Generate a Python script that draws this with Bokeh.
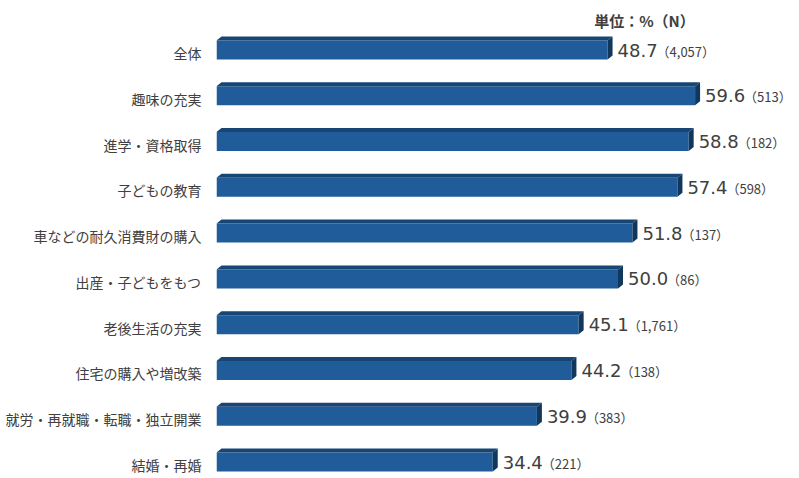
import numpy as np
from bokeh.plotting import figure
from bokeh.models import Range1d, FixedTicker, ColumnDataSource, Label
from bokeh.core.properties import value
from bokeh.embed import file_html
from bokeh.resources import INLINE

categories = ["全体", "趣味の充実", "進学・資格取得", "子どもの教育", "車などの耐久消費財の購入",
              "出産・子どもをもつ", "老後生活の充実", "住宅の購入や増改築",
              "就労・再就職・転職・独立開業", "結婚・再婚"]
values = [48.7, 59.6, 58.8, 57.4, 51.8, 50.0, 45.1, 44.2, 39.9, 34.4]
counts = ["4,057", "513", "182", "598", "137", "86", "1,761", "138", "383", "221"]
unit_label = "単位：%（N）"

# layout constants (pixels)
W, H = 799, 478
LEFT = 216
PX_X = 8.03          # pixels per percentage point
PX_Y = 45.78         # pixels per row
ROW0 = 52.5          # y (px from top) of first row tick
frame_w = W - LEFT
x_end = frame_w / PX_X
y_top = -ROW0 / PX_Y
y_bot = (H - ROW0) / PX_Y

p = figure(width=W, height=H, output_backend="svg", toolbar_location=None,
           x_range=Range1d(0, x_end), y_range=Range1d(y_bot, y_top),
           x_axis_location=None, min_border_left=LEFT, min_border_right=0,
           min_border_top=0, min_border_bottom=0)
p.outline_line_color = None
p.grid.visible = False
p.background_fill_color = "white"
p.border_fill_color = "white"

n = len(categories)
idx = np.arange(n, dtype=float)
vals = np.array(values)

off = -3.0 / PX_Y          # bar centre shift (up)
h = 19.0 / PX_Y            # front face height
dx = 5.0 / PX_X            # depth in x
dy = 4.0 / PX_Y            # depth in y

c = idx + off
top = c - h / 2
bot = c + h / 2

src = ColumnDataSource(dict(y=c, right=vals))
p.hbar(y="y", left=0, right="right", height=h, source=src,
       fill_color="#1F5C99", line_color=None)

top_xs = [[0, v, v + dx, dx] for v in vals]
top_ys = [[t, t, t - dy, t - dy] for t in top]
p.patches(top_xs, top_ys, fill_color="#184674", line_color=None)

side_xs = [[v, v + dx, v + dx, v] for v in vals]
side_ys = [[t, t - dy, b - dy, b] for t, b in zip(top, bot)]
p.patches(side_xs, side_ys, fill_color="#12375C", line_color=None)

num_src = ColumnDataSource(dict(x=vals + 10.0 / PX_X, y=c,
                                t=["{:.1f}".format(v) for v in vals]))
p.text(x="x", y="y", text="t", source=num_src, text_font=value("DejaVu Sans"),
       text_font_size="18px", text_color="#404040", text_baseline="middle",
       text_align="left")

n_src = ColumnDataSource(dict(x=vals + 49.0 / PX_X, y=c + 1.0 / PX_Y,
                              t=["（" + s + "）" for s in counts]))
p.text(x="x", y="y", text="t", source=n_src, text_font=value("Noto Sans CJK JP"),
       text_font_size="13px", text_color="#404040", text_baseline="middle",
       text_align="left")

p.add_layout(Label(x=(644 - LEFT) / PX_X, y=(20 - ROW0) / PX_Y, text=unit_label,
                   text_font="Noto Sans CJK JP", text_font_size="15px",
                   text_font_style="bold", text_color="#404040",
                   text_align="center", text_baseline="middle"))

ax = p.yaxis[0]
ax.ticker = FixedTicker(ticks=list(range(n)))
ax.major_label_overrides = {i: cat for i, cat in enumerate(categories)}
ax.axis_line_color = None
ax.major_tick_line_color = None
ax.minor_tick_line_color = None
ax.major_tick_out = 0
ax.major_tick_in = 0
ax.major_label_standoff = 15
ax.major_label_text_font = "Noto Sans CJK JP"
ax.major_label_text_font_size = "14px"
ax.major_label_text_color = "#404040"

open("out.html", "w").write(file_html(p, INLINE))
